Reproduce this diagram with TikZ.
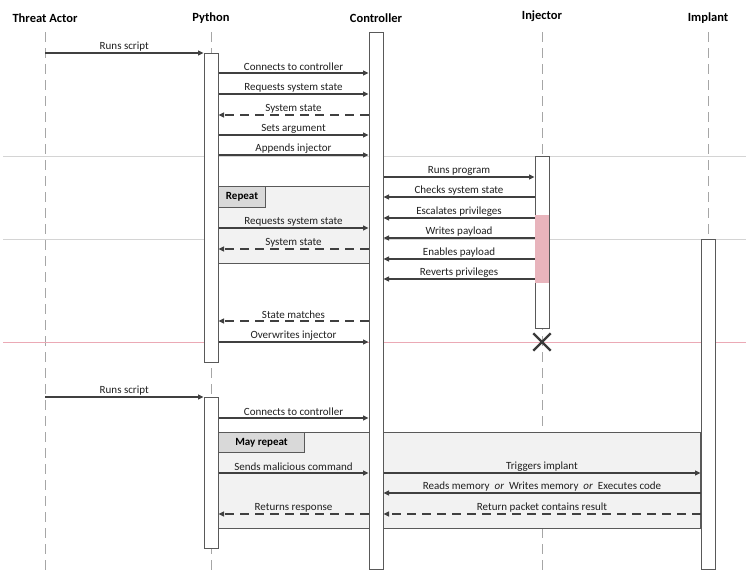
\documentclass[tikz,border=0pt]{standalone}
\usepackage{fontspec}
\setmainfont{Carlito}
\usetikzlibrary{arrows.meta,shapes.misc}
\definecolor{lineC}{HTML}{404040}
\definecolor{boxC}{HTML}{595959}
\definecolor{lifeC}{HTML}{A6A6A6}
\definecolor{sepC}{HTML}{D4D4D4}
\definecolor{frameC}{HTML}{F2F2F2}
\definecolor{tabC}{HTML}{D9D9D9}
\definecolor{pinkC}{HTML}{E8B4BC}
\definecolor{pinkL}{HTML}{EBA9B5}
\newcommand\mymsg[5]{\draw[#5] (#1 |- 0,#3) -- (#2 |- 0,#3) node[lbl,midway]{#4};}
\begin{document}
\begin{tikzpicture}[x=1pt,y=-1pt,
  ln/.style={draw=lineC, line width=1.2pt},
  msg/.style={ln, -{Triangle[length=5.5pt,width=5pt]}},
  ret/.style={msg, dash pattern=on 9pt off 6pt},
  act/.style={draw=boxC, fill=white, line width=1pt, minimum width=14pt, inner sep=0pt, anchor=north},
  lifeline/.style={draw=lifeC, line width=1pt, dash pattern=on 10pt off 6pt},
  sepline/.style={draw=sepC, line width=0.9pt},
  hdr/.style={font=\bfseries\fontsize{12.5}{14}\selectfont, inner sep=0pt},
  lbl/.style={font=\fontsize{11}{12}\selectfont, above, inner sep=1.5pt, text=black!88},
  frame/.style={draw=boxC, fill=frameC, line width=1pt, inner sep=0pt, anchor=north west},
  tab/.style={draw=boxC, fill=tabC, line width=1pt, inner sep=0pt, anchor=north west, font=\bfseries\fontsize{11}{12}\selectfont}]
\useasboundingbox (0,0) rectangle (746,584);
% headers
\node[hdr] (hTA) at (45,18) {Threat Actor};
\node[hdr] (hPy) at (211,18) {Python};
\node[hdr] (hCt) at (376,18) {Controller};
\node[hdr] (hIn) at (542,16) {Injector};
\node[hdr] (hIm) at (708,18) {Implant};
% lifeline coordinates
\coordinate (ta) at (45,32);   \coordinate (taB) at (45,570);
\coordinate (py) at (211,32);  \coordinate (pyB) at (211,570);
\coordinate (ct) at (376,32);  \coordinate (ctB) at (376,570);
\coordinate (in) at (542,32);  \coordinate (inB) at (542,570);
\coordinate (im) at (708,32);  \coordinate (imB) at (708,570);
\draw[lifeline] (ta) -- (taB);
\draw[lifeline] (py) -- (pyB);
\draw[lifeline] (ct) -- (ctB);
\draw[lifeline] (in) -- (inB);
\draw[lifeline] (im) -- (imB);
% separators
\coordinate (s1L) at (3,156); \coordinate (s1R) at (746,156);
\coordinate (s2L) at (3,239); \coordinate (s2R) at (746,239);
\coordinate (s3L) at (3,342); \coordinate (s3R) at (746,342);
\draw[sepline] (s1L) -- (s1R);
\draw[sepline] (s2L) -- (s2R);
\draw[draw=pinkL, line width=1pt] (s3L) -- (s3R);
% frames
\node[frame, minimum width=151pt, minimum height=77pt] (rep) at (218,186) {};
\node[tab, minimum width=47pt, minimum height=21pt] (repT) at (rep.north west) {Repeat};
\node[frame, minimum width=482pt, minimum height=96pt] (mrep) at (218,432) {};
\node[tab, minimum width=86pt, minimum height=20pt] (mrepT) at (mrep.north west) {May repeat};
% activation boxes
\node[act, minimum height=309pt] (pyA) at (211,53) {};
\node[act, minimum height=151pt] (pyC) at (211,397) {};
\node[act, minimum height=537pt] (ctl) at (376,32) {};
\node[act, minimum height=172pt] (inj) at (542,156) {};
\node[act, minimum height=330pt] (imp) at (708,239) {};
\fill[pinkC] ([xshift=0.5pt]inj.west |- 0,215) rectangle ([xshift=-0.5pt]inj.east |- 0,283);
\node[draw=lineC!90!black, cross out, line width=2.4pt, minimum size=15pt, inner sep=0pt] (kill) at (542,342) {};
% messages
\mymsg{ta}{pyA.west}{53}{Runs script}{msg}
\mymsg{pyA.east}{ctl.west}{73}{Connects to controller}{msg}
\mymsg{pyA.east}{ctl.west}{94}{Requests system state}{msg}
\mymsg{ctl.west}{pyA.east}{115}{System state}{ret}
\mymsg{pyA.east}{ctl.west}{135}{Sets argument}{msg}
\mymsg{pyA.east}{ctl.west}{155}{Appends injector}{msg}
\mymsg{ctl.east}{inj.west}{177}{Runs program}{msg}
\mymsg{inj.west}{ctl.east}{197}{Checks system state}{msg}
\mymsg{inj.west}{ctl.east}{218}{Escalates privileges}{msg}
\mymsg{inj.west}{ctl.east}{238}{Writes payload}{msg}
\mymsg{inj.west}{ctl.east}{259}{Enables payload}{msg}
\mymsg{inj.west}{ctl.east}{279}{Reverts privileges}{msg}
\mymsg{pyA.east}{ctl.west}{228}{Requests system state}{msg}
\mymsg{ctl.west}{pyA.east}{249}{System state}{ret}
\mymsg{ctl.west}{pyA.east}{321}{State matches}{ret}
\mymsg{pyA.east}{ctl.west}{342}{Overwrites injector}{msg}
\mymsg{ta}{pyC.west}{397}{Runs script}{msg}
\mymsg{pyC.east}{ctl.west}{418}{Connects to controller}{msg}
\mymsg{pyC.east}{ctl.west}{473}{Sends malicious command}{msg}
\mymsg{ctl.east}{imp.west}{473}{Triggers implant}{msg}
\mymsg{imp.west}{ctl.east}{493}{Reads memory\ \ \textit{or}\ \ Writes memory\ \ \textit{or}\ \ Executes code}{msg}
\mymsg{imp.west}{ctl.east}{514}{Return packet contains result}{ret}
\mymsg{ctl.west}{pyC.east}{514}{Returns response}{ret}
\end{tikzpicture}
\end{document}
